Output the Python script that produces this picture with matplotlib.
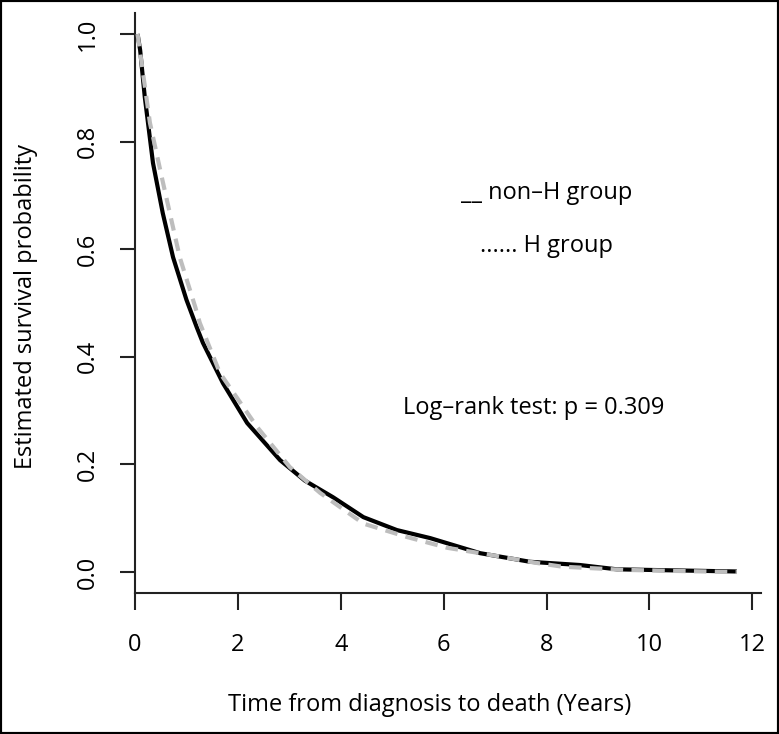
import matplotlib
matplotlib.use('Agg')
import matplotlib.pyplot as plt
from matplotlib.patches import Rectangle

plt.rcParams['font.family'] = ['Open Sans', 'DejaVu Sans']

# Kaplan-Meier estimates
t_nonh = [0.05, 0.1, 0.19, 0.35, 0.54, 0.74, 1.0, 1.2, 1.32, 1.71, 2.18, 2.82,
          3.3, 3.85, 4.44, 5.09, 5.74, 6.71, 7.68, 8.65, 9.37, 10.5, 11.7]
s_nonh = [1.0, 0.97, 0.883, 0.76, 0.667, 0.585, 0.506, 0.455, 0.426, 0.351, 0.277, 0.208,
          0.17, 0.139, 0.102, 0.078, 0.063, 0.035, 0.019, 0.013, 0.005, 0.003, 0.001]

t_h = [0.05, 0.29, 0.52, 0.87, 1.17, 1.26, 1.65, 2.37, 3.01, 3.6, 4.44, 5.29,
       6.07, 6.9, 7.8, 8.3, 9.5, 10.5, 11.7]
s_h = [1.0, 0.835, 0.734, 0.585, 0.493, 0.463, 0.37, 0.27, 0.195, 0.147, 0.09, 0.065,
       0.045, 0.032, 0.017, 0.01, 0.004, 0.002, 0.0]

xticks = [0, 2, 4, 6, 8, 10, 12]
yticks = [0.0, 0.2, 0.4, 0.6, 0.8, 1.0]

fig = plt.figure(figsize=(7.79, 7.34), dpi=100)
ax = fig.add_axes([135/779, 1-593/734, 626/779, 580/734])

ax.plot(t_nonh, s_nonh, color='black', lw=3, solid_capstyle='butt', zorder=2)
ax.plot(t_h, s_h, color='#bdbdbd', lw=3, dashes=(3, 2), zorder=3)

ax.set_xlim(0, 12.17)
ax.set_ylim(-0.039, 1.039)

for s in ['top', 'right']:
    ax.spines[s].set_visible(False)
for s in ['left', 'bottom']:
    ax.spines[s].set_linewidth(1.5)
    ax.spines[s].set_color('#222222')

ax.set_xticks(xticks)
ax.set_xticklabels([str(v) for v in xticks])
ax.set_yticks(yticks)
ax.set_yticklabels(['%.1f' % v for v in yticks], rotation=90, va='center')
ax.tick_params(axis='x', length=12, width=1.5, color='#222222', pad=17, labelsize=17)
ax.tick_params(axis='y', length=11, width=1.5, color='#222222', pad=14, labelsize=17)

fig.text(430/779, 1-705/734, 'Time from diagnosis to death (Years)', ha='center', va='center', fontsize=17)
fig.text(26/779, 1-306/734, 'Estimated survival probability', ha='center', va='center',
         rotation=90, fontsize=17)

ax.text(8.0, 0.704, '__ non\u2013H group', ha='center', va='center', fontsize=17)
ax.text(8.0, 0.606, '...... H group', ha='center', va='center', fontsize=17)
ax.text(5.21, 0.305, 'Log\u2013rank test: p = 0.309', ha='left', va='center', fontsize=17)

fig.patches.append(Rectangle((0, 0), 1, 1, transform=fig.transFigure, fill=False,
                             edgecolor='black', lw=3))

fig.savefig('out.png', dpi=100)
